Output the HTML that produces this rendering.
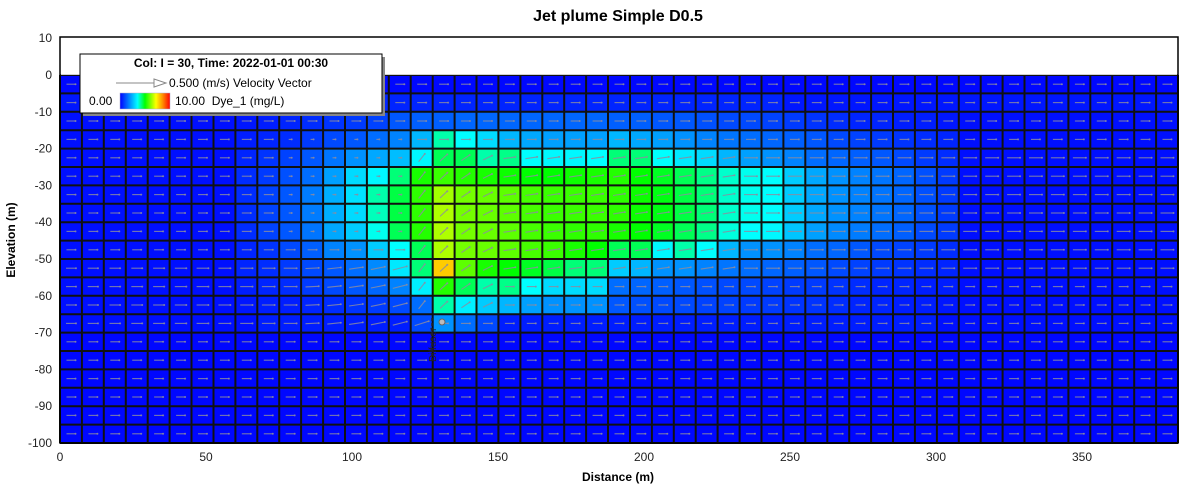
<!DOCTYPE html>
<html><head><meta charset="utf-8"><style>
body{margin:0;background:#fff;width:1200px;height:485px;overflow:hidden;font-family:"Liberation Sans",Arial,sans-serif}
svg{display:block}
</style></head><body>
<svg id="s" width="1200" height="485" xmlns="http://www.w3.org/2000/svg" font-family="Liberation Sans, Arial, sans-serif">
<text x="618" y="21" text-anchor="middle" font-size="16" font-weight="bold">Jet plume Simple D0.5</text>
<g id="cells"></g>
<rect x="60" y="37" width="1118" height="406" fill="none" stroke="#000" stroke-width="1.5"/>
<g font-size="12" fill="#222" text-anchor="end" id="yt"></g>
<g font-size="12" fill="#222" text-anchor="middle" id="xt"></g>
<text x="618" y="481" text-anchor="middle" font-size="12" font-weight="bold">Distance (m)</text>
<text transform="translate(15,240) rotate(-90)" text-anchor="middle" font-size="12" font-weight="bold">Elevation (m)</text>
<line x1="432" y1="318" x2="432" y2="362" stroke="#222" stroke-width="1.5" stroke-dasharray="3,2"/>
<circle cx="442" cy="322" r="3" fill="#bbb" stroke="#666"/>
<text transform="translate(436,362) rotate(-90)" font-size="10" fill="#222">Diffuser</text>
<rect x="83" y="57" width="302" height="59" fill="#888"/>
<rect x="80" y="54" width="302" height="59" fill="#fff" stroke="#000" stroke-width="1"/>
<text x="231" y="67" text-anchor="middle" font-size="12" font-weight="bold">Col: I = 30, Time: 2022-01-01 00:30</text>
<line x1="116" y1="83" x2="160" y2="83" stroke="#888" stroke-width="1"/>
<polygon points="154,79 166,83 154,87" fill="#fff" stroke="#888"/>
<text x="169" y="87" font-size="12">0.500 (m/s) Velocity Vector</text>
<text x="89" y="105" font-size="12">0.00</text>
<defs><linearGradient id="cb" x1="0" x2="1" y1="0" y2="0">
<stop offset="0" stop-color="#0000ff"/><stop offset="0.35" stop-color="#00ffff"/><stop offset="0.5" stop-color="#00ff00"/><stop offset="0.72" stop-color="#ffff00"/><stop offset="0.85" stop-color="#ff9000"/><stop offset="1" stop-color="#ff0000"/></linearGradient></defs>
<rect x="120" y="93" width="50" height="16" fill="url(#cb)" stroke="#aac" stroke-width="0.5"/>
<text x="175" y="105" font-size="12">10.00&#160; Dye_1 (mg/L)</text>
</svg>
<script>
(function(){
var R={};
R[2]=[.3,.4,.5,.6,.7,.8,.9,1.2,1.3,1.3,1.4,1.4,1.4,1.4,1.4,1.4,1.4,1.3,1.3,1.2,1.2,1.1,1,1,.9,.8,.7,.6,.5,.5,.4,.4,.3];
R[3]=[.4,.5,.6,.8,1,1.2,1.5,1.8,2.5,4,3.5,3,2.5,2.3,2.2,2.2,2.2,2.5,2.3,2.2,2,1.8,1.6,1.5,1.4,1.3,1.2,1,.9,.8,.7,.6,.5];
R[4]=[.5,.7,.9,1.2,1.6,2,2.3,2.6,3.4,4.5,4.5,4,4.2,3.5,3.4,3.4,3.5,4.3,4.3,3.5,3.2,3,2.5,2.2,2,1.8,1.5,1.4,1.3,1.2,1,.8,.6];
R[5]=[.6,.8,1.1,1.5,2.2,3,3.4,4.3,5.2,5.5,5.3,5.2,5.1,5,5,5.1,5.2,5.3,5,4.8,4.5,4.2,3.8,3.6,3.5,2.8,2.3,2,1.8,1.6,1.4,1.1,.8];
R[6]=[.6,.9,1.2,1.7,2.4,3.1,4,4.6,5.4,6.4,6,5.9,5.8,5.6,5.5,5.5,5.5,5.4,5.1,4.9,4.6,4.3,3.8,3.6,3.5,2.8,2.3,2,1.8,1.6,1.4,1.1,.8];
R[7]=[.6,.9,1.2,1.7,2.4,3,3.9,4.6,5.4,6.5,6,5.9,5.8,5.6,5.5,5.5,5.5,5.4,5.1,4.9,4.6,4.3,3.8,3.6,3.5,2.8,2.3,2,1.8,1.6,1.4,1.1,.8];
R[8]=[.6,.9,1.2,1.6,2.3,2.8,3.6,4.5,5.3,6.5,6,5.9,5.8,5.6,5.5,5.4,5.4,5.2,5,4.8,4.5,4.2,3.7,3.5,3.4,2.7,2.2,1.9,1.7,1.5,1.3,1,.8];
R[9]=[.5,.7,1,1.3,1.8,2,2.8,3.5,4.5,6.5,6,5.9,5.8,5.6,5.5,5.2,5,4.5,4.5,3.4,4,3.5,2.5,2,2,1.8,1.5,1.4,1.2,1,.9,.8,.6];
R[10]=[.5,.6,.8,1,1.2,1.5,1.9,3.2,4.3,7.8,5.8,5.2,5,4.8,4.6,4.3,4.3,2.8,2.5,2,2,1.8,1.6,1.5,1.4,1.3,1.2,1,.9,.8,.7,.6,.5];
R[11]=[.4,.5,.6,.8,1,1.2,1.4,1.8,3.3,5.3,4.5,4,4.2,3.5,3,3,3,1.5,1.4,1.3,1.2,1.1,1,1,.9,.8,.8,.7,.6,.5,.5,.4,.4];
R[12]=[.3,.4,.4,.5,.6,.7,.8,1,1.5,4,3.3,2.8,2.5,2.2,2,2,2,1.2,1.1,1,1,.9,.9,.8,.8,.7,.7,.6,.5,.5,.4,.4,.3];
function val(r,c){
 if(r==13){if(c==16)return 1;if(c==17)return 2;if(c==18)return 1.5;if(c==19)return 1;return (c>8&&c<40)?.4:.2;}
 if(r==1)return (c>=14&&c<=32)?.5:.3;
 if(R[r]&&c>=8&&c<=40)return R[r][c-8];
 if(R[r])return .2;
 return 0.1;
}
function col(v){
 var t=Math.max(0,Math.min(1,v/10)),r,g,b;
 if(t<.35){r=0;g=255*t/.35;b=255;}
 else if(t<.5){r=0;g=255;b=255*(1-(t-.35)/.15);}
 else if(t<.72){r=255*(t-.5)/.22;g=255;b=0;}
 else if(t<.85){r=255;g=255-(t-.72)/.13*110;b=0;}
 else {r=255;g=145*(1-(t-.85)/.15);b=0;}
 return "rgb("+Math.round(r)+","+Math.round(g)+","+Math.round(b)+")";
}
var g=document.getElementById("cells"),W=1118/51,H=368/20,h="";
for(var r=0;r<20;r++)for(var c=0;c<51;c++){
 var x=60+c*W,y=75+r*H;
 h+='<rect x="'+x.toFixed(1)+'" y="'+y.toFixed(1)+'" width="'+(W+.5).toFixed(1)+'" height="'+(H+.5).toFixed(1)+'" fill="'+col(val(r,c))+'"/>';
}
for(var c=0;c<=51;c++){var x=60+c*W;h+='<line x1="'+x.toFixed(1)+'" y1="75" x2="'+x.toFixed(1)+'" y2="443" stroke="#111" stroke-width="2"/>';}
for(var r=0;r<=20;r++){var y=75+r*H;h+='<line x1="60" y1="'+y.toFixed(1)+'" x2="1178" y2="'+y.toFixed(1)+'" stroke="#111" stroke-width="2"/>';}
for(var r=0;r<20;r++)for(var c=0;c<51;c++){
 var cx=60+(c+.5)*W,cy=75+(r+.5)*H,L=9,a=0;
 if(r>=10&&r<=13&&c<17){L=10+(c/17)*5;a=-0.05*(c-10>0?c-10:0);}
 if(c>=16&&c<=19&&r>=4&&r<=12){a=-(0.9-0.15*(c-16));L=10;}
 if(c>=20&&c<=30&&r>=4&&r<=10){a=-0.15;L=12;}
 if(c>30&&r>=4&&r<=10){L=13;}
 if(c>=10&&c<=15&&r>=3&&r<=8){L=3;}
 var dx=Math.cos(a)*L/2,dy=Math.sin(a)*L/2;
 h+='<line x1="'+(cx-dx).toFixed(1)+'" y1="'+(cy-dy).toFixed(1)+'" x2="'+(cx+dx).toFixed(1)+'" y2="'+(cy+dy).toFixed(1)+'" stroke="#8c8ca0" stroke-width="1.1" opacity="0.85"/>';
 h+='<circle cx="'+(cx+dx).toFixed(1)+'" cy="'+(cy+dy).toFixed(1)+'" r="1" fill="#8c8ca0" opacity="0.85"/>';
}
h+='<rect x="60.8" y="37.8" width="1116.4" height="37" fill="#fff"/>';
g.innerHTML=h;
var yt="";for(var v=10;v>=-100;v-=10){var y=75-v*3.68;yt+='<text x="52" y="'+(y+4)+'">'+v+'</text>';}
document.getElementById("yt").innerHTML=yt;
var xt="";for(var v=0;v<=350;v+=50){var x=60+v*2.92;xt+='<text x="'+x+'" y="461">'+v+'</text>';}
document.getElementById("xt").innerHTML=xt;
})();
</script>
</body></html>
